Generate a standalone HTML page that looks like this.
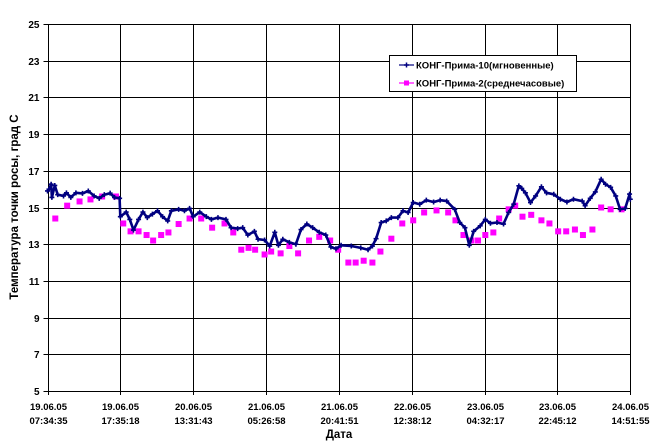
<!DOCTYPE html>
<html><head><meta charset="utf-8"><style>
html,body{margin:0;padding:0;background:#fff}
svg{display:block;font-family:"Liberation Sans",Arial,sans-serif}
</style></head><body>
<svg id="chart" width="661" height="446" viewBox="0 0 661 446" xmlns="http://www.w3.org/2000/svg">
<g id="grid"></g>
<g id="yaxis"></g>
<g id="xaxis"></g>
<g id="series"></g>
<text transform="translate(18,207) rotate(-90)" text-anchor="middle" font-size="11.5" font-weight="bold" fill="#000">Температура точки росы, град С</text>
<text x="339" y="438" text-anchor="middle" font-size="11.5" font-weight="bold" fill="#000">Дата</text>
<g>
<rect x="389.5" y="55.5" width="187" height="36" fill="#fff" stroke="#000" stroke-width="1"/>
<g>
<line x1="399" y1="65" x2="414" y2="65" stroke="#000080" stroke-width="1.2"/>
<path d="M404 65h5M406.5 62.5v5" stroke="#000080" stroke-width="1.5"/>
<text x="416" y="68.5" font-size="9.5" font-weight="bold" fill="#000">КОНГ-Прима-10(мгновенные)</text>
</g>
<g>
<line x1="399" y1="83" x2="414" y2="83" stroke="#ff00ff" stroke-width="1.2"/>
<rect x="404" y="80.5" width="5" height="5" fill="#ff00ff"/>
<text x="416" y="86.5" font-size="9.5" font-weight="bold" fill="#000">КОНГ-Прима-2(среднечасовые)</text>
</g>
</g>
</svg>
<script>
const yTicks=[5,7,9,11,13,15,17,19,21,23,25];
const xDateLabels=["19.06.05","19.06.05","20.06.05","21.06.05","21.06.05","22.06.05","23.06.05","23.06.05","24.06.05"];
const xTimeLabels=["07:34:35","17:35:18","13:31:43","05:26:58","20:41:51","12:38:12","04:32:17","22:45:12","14:51:55"];
const hourlyX=[0.107,0.27,0.44,0.59,0.75,0.94,1.04,1.14,1.25,1.36,1.45,1.56,1.66,1.80,1.95,2.11,2.26,2.43,2.55,2.66,2.76,2.85,2.98,3.07,3.20,3.32,3.44,3.59,3.73,3.88,3.99,4.13,4.23,4.34,4.46,4.57,4.72,4.87,5.02,5.17,5.34,5.50,5.60,5.71,5.82,5.91,6.01,6.12,6.20,6.33,6.42,6.52,6.64,6.78,6.89,7.01,7.12,7.24,7.35,7.48,7.60,7.73,7.88];
const hourlyY=[14.4,15.1,15.33,15.44,15.6,15.6,14.13,13.7,13.7,13.5,13.2,13.5,13.64,14.1,14.4,14.4,13.9,14.13,13.64,12.7,12.8,12.7,12.44,12.6,12.5,12.9,12.5,13.2,13.4,13.2,12.7,12.0,12.0,12.1,12.0,12.6,13.3,14.13,14.3,14.73,14.84,14.73,14.3,13.5,13.2,13.2,13.5,13.64,14.4,14.9,15.1,14.5,14.6,14.3,14.13,13.7,13.7,13.8,13.5,13.8,15.0,14.9,14.9];
const instX=[0.0,0.02,0.05,0.06,0.1,0.14,0.22,0.26,0.32,0.39,0.48,0.56,0.64,0.71,0.78,0.86,0.92,0.99,1.0,1.08,1.13,1.18,1.25,1.31,1.37,1.44,1.51,1.58,1.65,1.7,1.8,1.88,1.95,2.0,2.09,2.18,2.25,2.34,2.45,2.52,2.61,2.68,2.75,2.84,2.89,2.98,3.05,3.12,3.17,3.23,3.32,3.41,3.48,3.56,3.64,3.73,3.82,3.89,3.96,4.03,4.17,4.3,4.4,4.46,4.51,4.58,4.65,4.72,4.81,4.88,4.95,5.02,5.11,5.2,5.3,5.39,5.48,5.59,5.66,5.73,5.79,5.85,5.94,6.01,6.08,6.17,6.26,6.33,6.4,6.47,6.51,6.56,6.63,6.7,6.78,6.85,6.95,7.04,7.13,7.22,7.34,7.38,7.45,7.52,7.6,7.66,7.73,7.8,7.86,7.93,7.99,8.0];
const instY=[15.9,16.0,16.27,15.55,16.2,15.7,15.63,15.8,15.55,15.8,15.77,15.9,15.63,15.5,15.7,15.78,15.55,15.5,14.5,14.75,14.35,13.77,14.35,14.75,14.45,14.64,14.82,14.5,14.27,14.82,14.9,14.82,14.95,14.5,14.75,14.5,14.35,14.45,14.35,13.9,13.85,13.9,13.5,13.7,13.27,13.23,12.9,13.65,12.94,13.27,13.1,13.0,13.8,14.1,13.9,13.65,13.5,12.85,12.75,12.94,12.9,12.8,12.7,12.9,13.3,14.18,14.27,14.45,14.45,14.82,14.73,15.27,15.18,15.4,15.3,15.4,15.35,14.9,14.18,13.9,12.94,13.7,14.0,14.35,14.14,14.18,14.1,14.73,15.18,16.18,16.04,15.8,15.27,15.63,16.13,15.8,15.72,15.45,15.3,15.45,15.35,15.1,15.5,15.85,16.54,16.27,16.1,15.63,14.9,14.95,15.73,15.45];

const NS="http://www.w3.org/2000/svg";
const L=47.5,R=630.3,T=24,B=391;
function sx(u){return L+(R-L)*u/8;}
function sy(v){return B-(B-T)*(v-5)/20;}
function mk(tag,attrs,parent){const e=document.createElementNS(NS,tag);for(const k in attrs)e.setAttribute(k,attrs[k]);parent.appendChild(e);return e;}
const grid=document.getElementById('grid'),ya=document.getElementById('yaxis'),xa=document.getElementById('xaxis'),se=document.getElementById('series');
yTicks.forEach(v=>{
  const y=Math.round(sy(v))+0.5;
  const g=mk('line',{x1:L,x2:R,y1:y,y2:y,stroke:'#000','stroke-width':1},grid);
  
  
  mk('line',{x1:L-4,x2:L,y1:y,y2:y,stroke:'#000'},ya);
  const t=mk('text',{x:L-8,y:y+3.5,'text-anchor':'end','font-size':'10','font-weight':'bold'},ya);
  
  
  t.textContent=v;
});
xDateLabels.forEach((d,i)=>{
  const x=Math.round(sx(i))+0.5;
  const g=mk('line',{x1:x,x2:x,y1:T,y2:B+4,stroke:'#000','stroke-width':1},grid);
  
  
  const t=mk('text',{x:x,y:410,'text-anchor':'middle','font-size':'9.5','font-weight':'bold'},xa);
  
  
  t.textContent=d;
  const t2=mk('text',{x:x,y:424,'text-anchor':'middle','font-size':'9.5','font-weight':'bold'},xa);
  
  
  t2.textContent=xTimeLabels[i];
});
// hourly markers
hourlyX.forEach((u,i)=>{
  const r=mk('rect',{x:sx(u)-3,y:sy(hourlyY[i])-3,width:6,height:6,fill:'#ff00ff'},se);
  
  
});
// instant line
const pts=instX.map((u,i)=>sx(u).toFixed(1)+','+sy(instY[i]).toFixed(1)).join(' ');
const pl=mk('polyline',{points:pts,fill:'none',stroke:'#000080','stroke-width':2.6,'stroke-linejoin':'round'},se);


instX.forEach((u,i)=>{
  const x=sx(u),y=sy(instY[i]);
  const p=mk('path',{d:`M${x-2.5} ${y}h5M${x} ${y-2.5}v5`,stroke:'#000080','stroke-width':1.6},se);
  
  
});
</script>
</body></html>
